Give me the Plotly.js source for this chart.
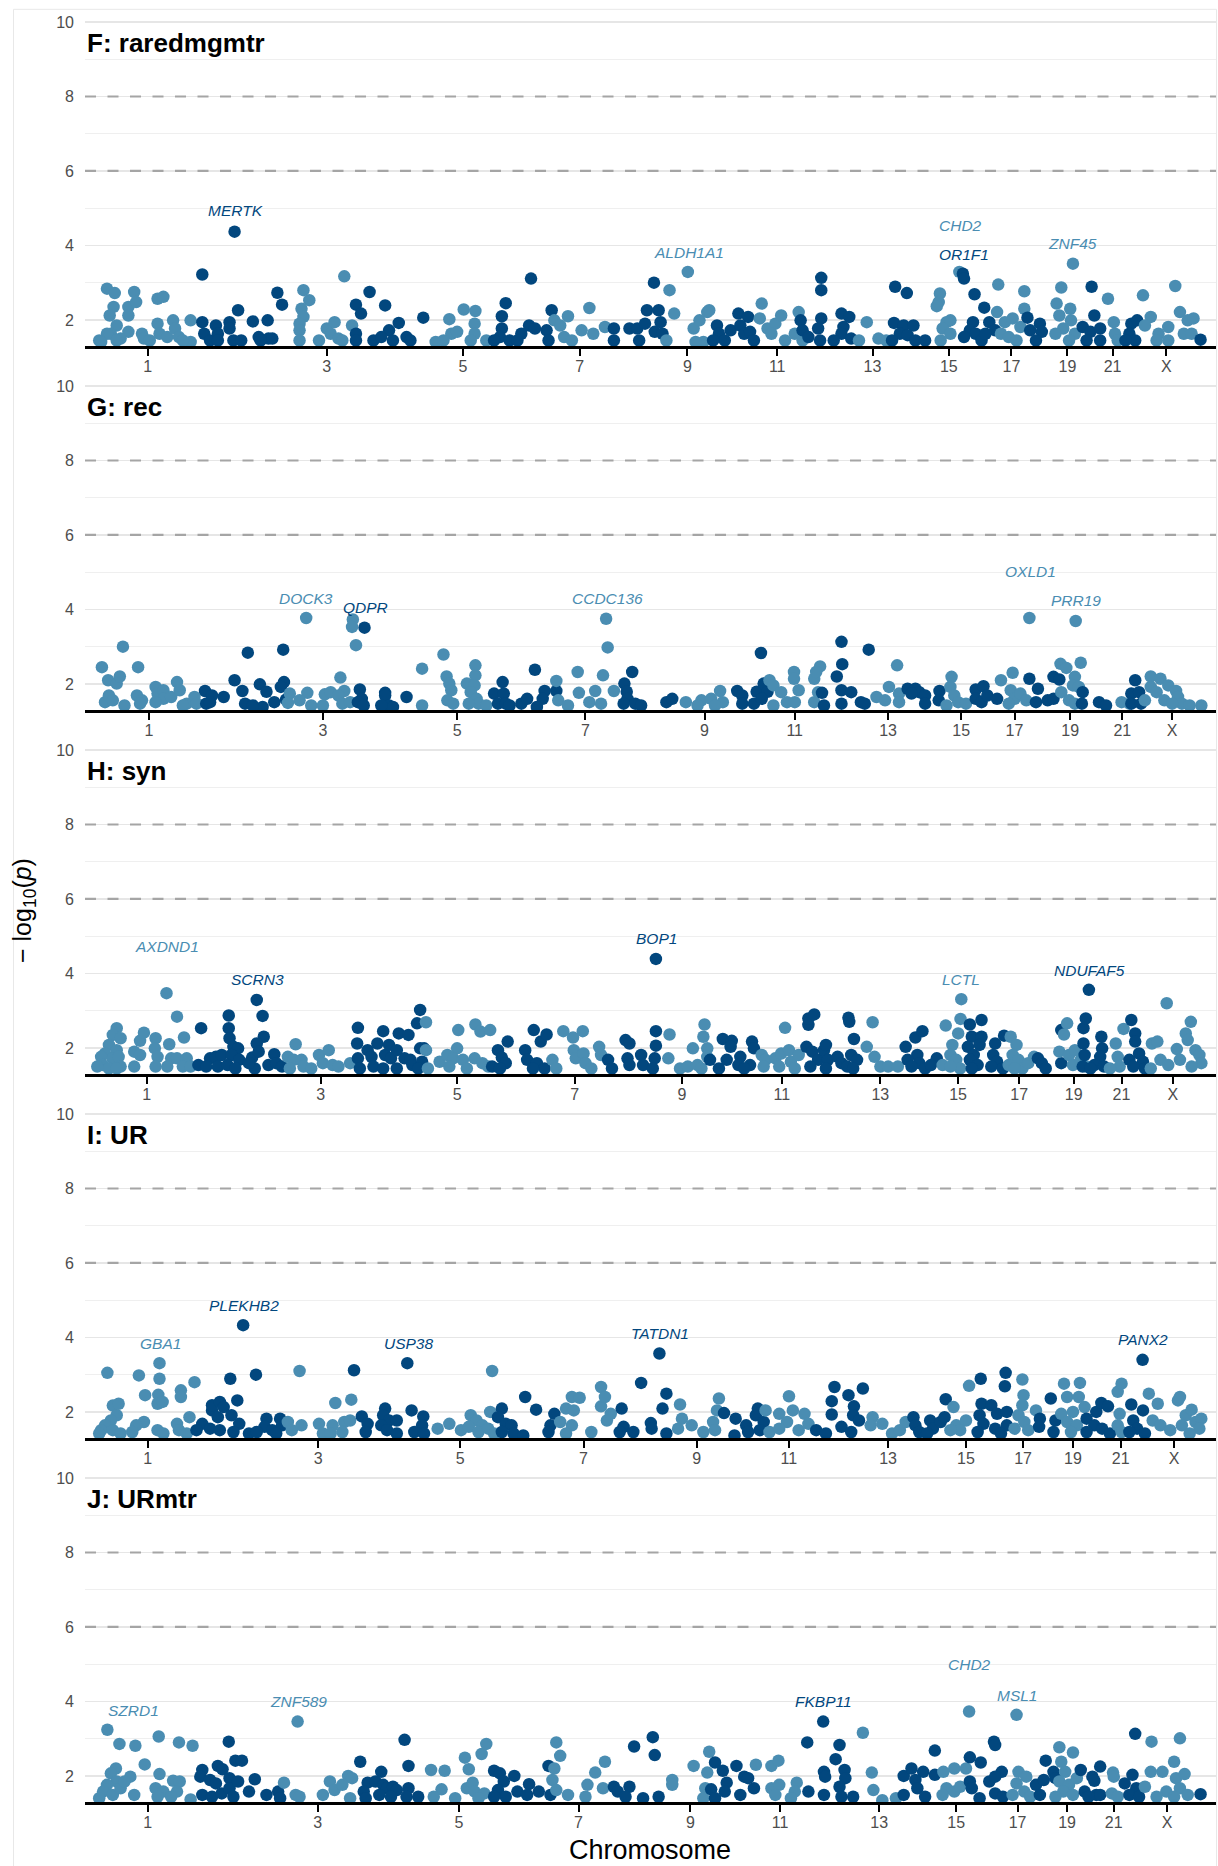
<!DOCTYPE html>
<html>
<head>
<meta charset="utf-8">
<script src="https://cdn.plot.ly/plotly-3.0.1.min.js"></script>
<style>html,body{margin:0;padding:0;background:#fff;}</style>
</head>
<body>
<div id="chart" style="width:1218px;height:1866px;"></div>
<script>
// ---------------- DATA ----------------
const chromNames = ['1','2','3','4','5','6','7','8','9','10','11','12','13','14','15','16','17','18','19','20','21','22','X','Y'];
const panelNames = ['F: raredmgmtr','G: rec','H: syn','I: UR','J: URmtr'];

// cumulative chromosome boundaries (genome axis units) for each panel
const edgesF = [244.2,515.6,745.4,934.6,1105.3,1274.5,1426.6,1553.6,1701.7,1832.2,1933.0,2062.6,2197.8,2287.7,2395.7,2482.1,2557.6,2641.9,2691.3,2796.2,2835.3,2884.6,2935.5,3060.4,3089.7];
const edgesG = [249.3,516.7,735.4,924.6,1090.1,1259.8,1441.5,1568.5,1745.6,1876.2,1978.0,2107.5,2237.9,2327.8,2427.6,2513.9,2565.6,2649.9,2698.5,2803.4,2860.2,2909.6,2950.4,3075.4,3088.2];
const edgesH = [244.2,510.0,729.5,918.7,1090.1,1259.8,1413.5,1540.5,1687.5,1818.1,1945.1,2074.6,2217.8,2307.8,2419.6,2506.0,2577.7,2662.0,2707.5,2812.4,2858.1,2907.5,2952.5,3077.4,3089.7];
const edgesI = [244.2,515.6,723.3,912.5,1098.1,1267.8,1436.4,1563.4,1725.6,1856.2,1963.1,2092.6,2237.9,2327.8,2439.7,2526.0,2587.7,2672.0,2705.5,2810.3,2856.1,2905.4,2955.3,3080.2,3092.3];
const edgesJ = [244.2,515.6,722.3,911.5,1095.0,1264.7,1423.6,1550.6,1709.6,1840.2,1940.2,2069.8,2215.0,2305.0,2414.7,2501.1,2573.6,2657.9,2690.3,2795.2,2838.1,2887.5,2937.3,3062.2,3092.3];

// rows: [chromosome index (1..24), cumulative position, -log10(p)]
const pointsF = [
[1,275,2.84],[1,295,2.72],[1,292,2.35],[1,282,2.12],[1,300,1.85],[1,285,1.63],[1,255,1.45],[1,275,1.63],[1,330,2.35],[1,345,2.75],[1,350,2.48],[1,330,2.12],[1,330,1.68],[1,310,1.50],[1,365,1.63],[1,370,1.50],[1,405,2.57],[1,420,2.62],[1,405,1.90],[1,410,1.63],[1,430,1.54],[1,445,1.99],[1,450,1.77],[1,460,1.54],[1,490,1.99],[1,490,1.41],[1,260,1.41],[1,300,1.45],[1,385,1.45],[1,470,1.45],
[2,520,3.22],[2,520,1.94],[2,525,1.63],[2,540,1.45],[2,555,1.85],[2,560,1.63],[2,590,1.94],[2,590,1.77],[2,603,4.37],[2,612,2.26],[2,600,1.45],[2,620,1.45],[2,650,1.96],[2,665,1.54],[2,688,1.99],[2,690,1.50],[2,700,1.50],[2,713,2.73],[2,725,2.41],[2,560,1.45],[2,670,1.45],
[3,780,2.80],[3,795,2.53],[3,775,2.30],[3,780,2.08],[3,770,1.90],[3,770,1.72],[3,770,1.45],[3,885,3.17],[3,840,1.77],[3,860,1.94],[3,850,1.63],[3,870,1.50],[3,905,1.85],[3,820,1.45],[3,880,1.45],
[4,915,2.41],[4,928,2.17],[4,950,2.75],[4,990,2.39],[4,1000,1.72],[4,1025,1.92],[4,915,1.63],[4,960,1.45],[4,980,1.54],[4,1010,1.45],[4,1045,1.54],[4,1055,1.45],[4,1088,2.06],[4,915,1.45],
[5,1120,1.41],[5,1155,2.02],[5,1160,1.63],[5,1175,1.68],[5,1192,2.28],[5,1222,2.24],[5,1220,1.90],[5,1220,1.63],[5,1210,1.45],[5,1250,1.45],[5,1140,1.45],
[6,1300,2.45],[6,1290,2.10],[6,1290,1.77],[6,1285,1.54],[6,1270,1.45],[6,1310,1.45],[6,1340,1.63],[6,1360,1.85],[6,1365,3.11],[6,1375,1.77],[6,1405,1.72],[6,1418,2.26],[6,1410,1.45],[6,1330,1.45],
[7,1425,1.99],[7,1440,1.85],[7,1460,2.10],[7,1450,1.54],[7,1470,1.45],[7,1495,1.72],[7,1515,2.32],[7,1525,1.63],[7,1555,1.81],
[8,1578,1.77],[8,1578,1.45],[8,1618,1.77],[8,1638,1.77],[8,1643,1.45],[8,1658,1.90],[8,1663,2.26],[8,1681,3.00],[8,1693,2.26],[8,1698,1.94],[8,1683,1.68],[8,1703,1.63],
[9,1721,2.80],[9,1733,2.17],[9,1713,1.45],[9,1768,3.29],[9,1783,1.77],[9,1798,1.99],[9,1818,2.21],[9,1823,2.26],[9,1808,1.41],[9,1788,1.41],
[10,1843,1.85],[10,1848,1.63],[10,1863,1.45],[10,1878,1.72],[10,1833,1.45],[10,1898,2.17],[10,1923,2.08],[10,1903,1.85],[10,1913,1.63],[10,1928,1.68],[10,1938,1.45],
[11,1958,2.44],[11,1953,2.04],[11,1973,1.77],[11,1993,1.90],[11,2008,2.12],[11,1983,1.63],[11,2018,1.45],[11,2053,2.21],[11,2043,1.63],[11,2063,1.45],
[12,2058,1.99],[12,2063,1.72],[12,2078,1.54],[12,2111,3.13],[12,2111,2.80],[12,2111,2.04],[12,2103,1.77],[12,2108,1.45],[12,2163,2.17],[12,2183,2.08],[12,2168,1.81],[12,2163,1.63],[12,2188,1.50],[12,2143,1.45],
[13,2208,1.45],[13,2228,1.94],[13,2258,1.50],[13,2278,1.45],
[14,2301,2.89],[14,2331,2.72],[14,2298,1.92],[14,2323,1.85],[14,2348,1.85],[14,2313,1.63],[14,2333,1.59],[14,2353,1.45],[14,2378,1.45],[14,2293,1.45],
[15,2416,2.71],[15,2413,2.48],[15,2408,2.37],[15,2433,1.94],[15,2443,1.99],[15,2423,1.77],[15,2443,1.63],[15,2466,3.29],[15,2418,1.45],
[16,2475,3.24],[16,2478,3.11],[16,2505,2.69],[16,2530,2.33],[16,2501,1.94],[16,2493,1.72],[16,2478,1.54],[16,2508,1.63],[16,2523,1.45],[16,2543,1.94],[16,2558,1.72],[16,2533,1.63],
[17,2566,2.95],[17,2563,2.21],[17,2583,1.94],[17,2603,2.04],[17,2573,1.63],[17,2593,1.54],[17,2613,1.45],[17,2633,2.77],[17,2633,2.30],[17,2623,1.81],
[18,2641,2.06],[18,2648,1.72],[18,2673,1.90],[18,2678,1.68],[18,2663,1.45],
[19,2728,2.87],[19,2716,2.44],[19,2723,2.12],[19,2751,2.30],[19,2758,3.51],[19,2753,1.99],[19,2733,1.77],[19,2763,1.63],[19,2748,1.45],[19,2713,1.63],
[20,2806,2.89],[20,2813,2.12],[20,2783,1.81],[20,2803,1.68],[20,2793,1.45],[20,2828,1.77],[20,2828,1.45],
[21,2848,2.57],[21,2863,1.94],[21,2866,1.63],[21,2873,1.45],
[22,2908,1.90],[22,2923,1.99],[22,2903,1.63],[22,2918,1.45],[22,2893,1.45],
[23,2938,2.66],[23,2958,2.08],[23,2943,1.85],[23,2978,1.63],[23,3003,1.81],[23,3021,2.91],[23,3033,2.21],[23,3053,1.99],[23,3068,2.04],[23,3043,1.63],[23,3063,1.63],[23,3003,1.45],[23,2973,1.45],
[24,3086,1.47]
];
const pointsG = [
[1,262,2.45],[1,278,2.10],[1,300,2.01],[1,308,2.20],[1,316,3.00],[1,270,1.51],[1,280,1.69],[1,290,1.56],[1,320,1.42],[1,355,2.45],[1,352,1.69],[1,365,1.56],[1,360,1.47],[1,400,1.92],[1,405,1.74],[1,420,1.83],[1,420,1.60],[1,440,1.65],[1,400,1.51],[1,455,2.05],[1,462,1.83],[1,480,1.47],[1,500,1.65],[1,505,1.47],[1,470,1.42],
[2,527,1.81],[2,545,1.69],[2,575,1.65],[2,530,1.47],[2,540,1.51],[2,603,2.10],[2,623,1.81],[2,637,2.84],[2,630,1.47],[2,668,1.99],[2,685,1.79],[2,705,1.51],[2,675,1.38],[2,728,2.92],[2,730,2.05],[2,722,1.92],[2,735,1.58],[2,650,1.42],
[3,745,1.74],[3,740,1.49],[3,787,3.77],[3,790,1.76],[3,770,1.56],[3,800,1.42],[3,835,1.72],[3,850,1.78],[3,875,2.17],[3,885,1.81],[3,870,1.69],[3,907,3.73],[3,905,3.53],[3,915,3.04],[3,880,1.47],[3,900,1.51],[3,830,1.42],
[4,937,3.51],[4,925,1.85],[4,930,1.60],[4,920,1.51],[4,935,1.42],[4,990,1.76],[4,990,1.69],[4,1000,1.42],[4,1010,1.38],[4,980,1.42],[4,1045,1.65],
[5,1085,2.41],[5,1085,1.42],[5,1140,2.79],[5,1148,2.20],[5,1155,2.01],[5,1160,1.83],[5,1150,1.56],[5,1165,1.47],[5,1200,2.01],[5,1222,2.50],[5,1222,2.23],[5,1220,1.96],[5,1210,1.78],[5,1225,1.60],[5,1230,1.47],[5,1205,1.47],[5,1250,1.42],
[6,1270,1.74],[6,1292,2.05],[6,1295,1.74],[6,1280,1.47],[6,1300,1.47],[6,1310,1.42],[6,1340,1.47],[6,1355,1.60],[6,1375,2.38],[6,1400,1.81],[6,1395,1.60],[6,1430,1.81],[6,1380,1.38],
[7,1430,2.08],[7,1435,1.56],[7,1460,1.42],[7,1485,2.32],[7,1488,1.76],[7,1515,1.51],[7,1530,1.81],[7,1550,2.23],[7,1558,3.75],[7,1562,2.98],[7,1545,1.47],[7,1578,1.81],
[8,1605,2.01],[8,1611,1.79],[8,1625,2.32],[8,1613,1.60],[8,1633,1.47],[8,1648,1.42],[8,1603,1.47],[8,1713,1.51],[8,1728,1.60],
[9,1763,1.51],[9,1803,1.56],[9,1828,1.60],[9,1851,1.81],[9,1858,1.51],[9,1793,1.42],[9,1838,1.42],
[10,1895,1.81],[10,1908,1.69],[10,1908,1.47],[10,1938,1.47],[10,1945,1.79],[10,1956,2.83],[10,1963,2.01],[10,1973,1.79],[10,1958,1.60],
[11,1978,2.10],[11,1988,1.96],[11,1988,1.42],[11,2008,1.78],[11,2023,1.51],[11,2041,2.32],[11,2041,2.14],[11,2053,1.83],[11,2043,1.51],[11,2093,2.14],[11,2108,2.47],[11,2098,2.32],[11,2103,1.78],[11,2093,1.51],
[12,2113,1.76],[12,2118,1.42],[12,2151,2.20],[12,2163,3.13],[12,2165,2.53],[12,2163,1.83],[12,2188,1.78],[12,2163,1.47],[12,2213,1.51],[12,2223,1.47],[12,2233,2.92],
[13,2253,1.65],[13,2275,1.56],[13,2285,1.92],[13,2306,2.50],[13,2311,1.74],[13,2311,1.51],
[14,2333,1.87],[14,2353,1.87],[14,2363,1.78],[14,2378,1.69],[14,2378,1.47],[14,2415,1.81],[14,2413,1.56],[14,2343,1.74],
[15,2446,2.19],[15,2443,1.92],[15,2453,1.69],[15,2463,1.51],[15,2483,1.47],[15,2433,1.42],
[16,2508,1.85],[16,2528,1.94],[16,2508,1.60],[16,2523,1.51],[16,2538,1.69],[16,2563,1.60],
[17,2573,2.10],[17,2603,2.30],[17,2598,1.83],[17,2608,1.60],[17,2623,1.74],[17,2638,1.56],[17,2646,3.77],[17,2593,1.47],
[18,2646,2.14],[18,2668,1.87],[18,2663,1.51],[18,2693,1.56],[18,2708,1.60],[18,2708,2.19],[18,2723,2.12],
[19,2726,2.54],[19,2741,2.43],[19,2763,2.19],[19,2765,3.69],[19,2778,2.57],[19,2758,1.96],[19,2773,1.92],[19,2728,1.78],[19,2748,1.56],[19,2763,1.47],
[20,2783,1.78],[20,2781,1.47],[20,2825,1.51],[20,2843,1.42],
[21,2883,1.51],[21,2903,1.47],
[22,2918,2.10],[22,2908,1.74],[22,2928,1.78],[22,2908,1.47],[22,2933,1.47],
[23,2958,2.20],[23,2983,2.14],[23,2958,1.92],[23,3003,1.96],[23,2973,1.78],[23,3023,1.81],[23,3028,1.65],[23,2993,1.56],[23,3038,1.47],[23,3058,1.42],[23,3088,1.42],[23,2943,1.56],[23,3013,1.47]
];
const pointsH = [
[1,300,2.53],[1,290,2.35],[1,310,2.26],[1,280,2.08],[1,300,1.94],[1,270,1.85],[1,260,1.76],[1,290,1.72],[1,305,1.76],[1,265,1.54],[1,280,1.45],[1,310,1.50],[1,250,1.50],[1,300,1.45],[1,345,1.90],[1,360,2.19],[1,370,2.41],[1,360,1.81],[1,345,1.50],[1,400,2.26],[1,398,1.99],[1,405,1.76],[1,400,1.50],[1,435,2.10],[1,428,3.47],[1,455,2.84],[1,473,2.28],[1,440,1.72],[1,455,1.72],[1,480,1.72],[1,470,1.50],[1,430,1.50],[1,490,1.50],
[2,517,2.53],[2,510,1.54],[2,540,1.72],[2,555,1.76],[2,570,1.81],[2,530,1.50],[2,560,1.50],[2,588,2.87],[2,588,2.53],[2,590,2.26],[2,600,2.03],[2,612,1.99],[2,595,1.81],[2,585,1.54],[2,615,1.68],[2,605,1.45],[2,648,1.74],[2,660,3.29],[2,675,2.86],[2,678,2.30],[2,660,2.12],[2,665,1.90],[2,655,1.45],[2,690,1.54],[2,705,1.83],[2,710,1.59],[2,725,1.50],[2,640,1.59],
[3,740,1.76],[3,760,2.10],[3,755,1.68],[3,775,1.68],[3,780,1.50],[3,745,1.45],[3,820,1.81],[3,845,1.94],[3,830,1.59],[3,855,1.54],[3,870,1.50],[3,800,1.45],[3,900,1.59],
[4,920,2.54],[4,918,2.12],[4,920,1.72],[4,925,1.45],[4,945,1.94],[4,955,1.76],[4,970,2.12],[4,985,2.45],[4,990,1.81],[4,1000,2.08],[4,1005,1.72],[4,1020,1.94],[4,1025,2.39],[4,1050,2.35],[4,1040,1.72],[4,960,1.50],[4,985,1.45],[4,1020,1.45],[4,1055,1.68],[4,1060,1.54],[4,1072,2.66],[4,1080,3.02],[4,1080,1.99],[4,1090,1.99],[4,1085,1.63],[4,1075,1.45],
[5,1095,2.69],[5,1095,1.94],[5,1100,1.45],[5,1130,1.63],[5,1150,1.81],[5,1178,2.48],[5,1175,1.99],[5,1165,1.72],[5,1190,1.68],[5,1155,1.50],[5,1222,2.63],[5,1235,2.44],[5,1260,2.48],[5,1220,1.72],[5,1240,1.59],[5,1200,1.45],[5,1255,1.50],
[6,1265,1.50],[6,1280,1.94],[6,1290,1.74],[6,1305,2.17],[6,1300,1.59],[6,1285,1.45],[6,1350,1.94],[6,1372,2.48],[6,1355,1.68],[6,1380,1.59],[6,1390,2.17],[6,1405,2.36],[6,1400,1.45],[6,1370,1.45],
[7,1420,1.68],[7,1430,1.45],[7,1448,2.45],[7,1473,2.28],[7,1498,2.45],[7,1475,1.94],[7,1480,1.72],[7,1500,1.85],[7,1505,1.59],[7,1520,1.45],[7,1540,2.03],[7,1545,1.81],
[8,1563,1.68],[8,1573,1.45],[8,1608,2.21],[8,1618,2.12],[8,1613,1.72],[8,1618,1.54],[8,1648,1.81],[8,1653,1.54],[8,1683,1.72],[8,1686,2.45],[8,1686,2.06],[8,1686,4.39],[8,1678,1.45],
[9,1718,1.72],[9,1721,2.36],[9,1748,1.45],[9,1768,1.50],[9,1781,1.99],[9,1793,1.54],[9,1811,2.63],[9,1808,2.30],[9,1818,1.99],[9,1818,1.76],[9,1803,1.45],
[10,1825,1.68],[10,1858,2.24],[10,1848,1.45],[10,1881,2.19],[10,1878,2.03],[10,1868,1.68],[10,1903,1.76],[10,1898,1.54],[10,1933,2.17],[10,1938,1.99],[10,1928,1.54],[10,1913,1.45],
[11,1958,1.81],[11,1968,1.68],[11,1963,1.50],[11,1993,1.72],[11,2008,1.85],[11,2018,2.54],[11,2028,1.94],[11,2003,1.50],[11,2033,1.63],[11,2053,1.81],[11,2043,1.45],
[12,2073,2.03],[12,2078,2.62],[12,2078,2.79],[12,2093,2.90],[12,2088,1.90],[12,2103,1.68],[12,2118,1.94],[12,2123,2.08],[12,2128,1.68],[12,2083,1.50],[12,2123,1.45],[12,2153,1.76],[12,2163,1.59],[12,2181,2.81],[12,2183,2.70],[12,2195,2.24],[12,2188,1.81],[12,2178,1.50],[12,2203,1.68],[12,2193,1.45],
[13,2228,2.03],[13,2243,2.69],[13,2248,1.76],[13,2263,1.50],[13,2283,1.50],[13,2308,1.50],
[14,2328,2.03],[14,2353,2.28],[14,2371,2.45],[14,2358,1.81],[14,2333,1.68],[14,2363,1.59],[14,2343,1.50],[14,2378,1.45],[14,2408,1.72],[14,2393,1.54],
[15,2431,2.60],[15,2448,2.08],[15,2463,2.39],[15,2469,2.78],[15,2471,3.31],[15,2443,1.81],[15,2423,1.54],[15,2458,1.68],[15,2468,1.45],[15,2443,1.50],
[16,2493,2.63],[16,2523,2.75],[16,2498,2.30],[16,2523,2.30],[16,2488,2.03],[16,2503,1.81],[16,2518,2.08],[16,2493,1.68],[16,2513,1.54],[16,2498,1.45],[16,2558,2.12],[16,2581,2.33],[16,2553,1.81],[16,2563,1.63],[16,2548,1.50],[16,2578,1.45],
[17,2598,2.30],[17,2613,2.08],[17,2603,1.81],[17,2618,1.68],[17,2593,1.54],[17,2628,1.45],[17,2643,1.59],[17,2658,1.76],[17,2608,1.45],
[18,2668,1.72],[18,2678,1.59],[18,2688,1.45],[18,2728,2.48],[18,2728,1.59],
[19,2723,1.90],[19,2743,2.66],[19,2735,2.36],[19,2748,1.81],[19,2763,1.94],[19,2758,1.54],[19,2778,1.68],[19,2793,1.50],
[20,2785,2.53],[20,2791,2.79],[20,2799,3.56],[20,2785,2.12],[20,2788,1.81],[20,2783,1.50],[20,2831,2.30],[20,2833,1.99],[20,2828,1.76],[20,2813,1.54],[20,2838,1.50],[20,2803,1.45],
[21,2868,2.12],[21,2873,1.76],[21,2888,2.51],[21,2878,1.50],[21,2853,1.45],
[22,2908,2.75],[22,2918,2.39],[22,2918,2.17],[22,2928,1.85],[22,2903,1.68],[22,2938,1.63],[22,2913,1.50],[22,2943,1.45],
[23,2961,2.12],[23,2975,2.17],[23,2999,3.20],[23,3025,1.97],[23,3048,2.39],[23,3053,2.21],[23,3061,2.70],[23,3073,1.94],[23,3083,1.81],[23,3088,1.59],[23,2983,1.68],[23,3003,1.54],[23,3033,1.68],[23,3063,1.50],[23,2958,1.45]
];
const pointsI = [
[1,276,3.05],[1,290,2.17],[1,305,2.22],[1,300,1.91],[1,285,1.77],[1,270,1.64],[1,260,1.51],[1,290,1.51],[1,310,1.42],[1,255,1.42],[1,357,2.98],[1,373,2.45],[1,370,1.73],[1,350,1.64],[1,340,1.46],[1,410,3.31],[1,410,2.89],[1,407,2.46],[1,405,2.22],[1,418,2.27],[1,405,1.51],[1,420,1.42],[1,465,2.58],[1,465,2.40],[1,455,1.68],[1,460,1.51],[1,487,1.86],[1,500,2.80],[1,480,1.42],
[2,520,1.68],[2,505,1.51],[2,545,2.04],[2,545,2.18],[2,565,2.27],[2,575,2.13],[2,560,1.86],[2,540,1.55],[2,565,1.51],[2,592,2.89],[2,610,2.31],[2,595,1.91],[2,615,1.68],[2,600,1.46],[2,625,4.33],[2,658,3.00],[2,640,1.42],[2,685,1.82],[2,680,1.60],[2,700,1.51],[2,720,1.82],[2,725,1.64],[2,710,1.42],[2,660,1.46],
[3,740,1.73],[3,750,1.51],[3,770,3.10],[3,775,1.64],[3,820,1.68],[3,830,1.42],[3,855,1.64],[3,862,2.24],[3,885,1.73],[3,903,2.33],[3,900,1.77],[3,880,1.46],[3,850,1.42],
[4,910,3.12],[4,930,1.88],[4,945,1.68],[4,940,1.46],[4,990,2.09],[4,985,1.91],[4,1000,1.77],[4,1020,1.77],[4,980,1.64],[4,995,1.51],[4,1020,1.42],[4,1047,3.31],[4,1058,2.04],[4,1088,1.88],[4,1085,1.64],[4,1065,1.46],[4,1090,1.42],
[5,1125,1.55],[5,1155,1.68],[5,1185,1.51],[5,1210,1.91],[5,1225,1.77],[5,1205,1.60],[5,1240,1.64],[5,1230,1.46],[5,1255,1.55],[5,1260,2.00],[5,1265,3.10],[5,1270,1.42],
[6,1290,2.09],[6,1280,1.86],[6,1300,1.68],[6,1315,1.64],[6,1290,1.46],[6,1320,1.42],[6,1350,2.40],[6,1378,2.06],[6,1345,1.37],[6,1415,1.64],[6,1410,1.46],[6,1425,1.95],
[7,1440,1.73],[7,1455,2.09],[7,1470,2.40],[7,1490,2.38],[7,1475,2.04],[7,1470,1.64],[7,1455,1.42],[7,1520,1.46],[7,1545,2.67],[7,1545,2.15],[7,1555,2.40],[7,1560,1.77],[7,1570,1.95],
[8,1598,2.09],[8,1603,1.60],[8,1593,1.46],[8,1628,1.46],[8,1648,2.78],[8,1673,1.70],[8,1675,1.55],[8,1695,3.57],[8,1713,2.49],[8,1703,2.09],[8,1713,1.42],
[9,1748,2.20],[9,1753,1.82],[9,1743,1.55],[9,1778,1.64],[9,1808,1.46],[9,1833,1.73],[9,1848,2.36],[9,1843,2.04],[9,1838,1.51],
[10,1861,1.97],[10,1891,1.82],[10,1888,1.37],[10,1918,1.64],[10,1948,2.09],[10,1943,1.91],[10,1963,1.73],[10,1953,1.51],[10,1923,1.46],
[11,1968,2.04],[11,1978,1.46],[11,2003,1.95],[11,2028,2.42],[11,2038,2.04],[11,2023,1.73],[11,2068,1.95],[11,2078,1.68],[11,2053,1.51],[11,2003,1.55],
[12,2098,1.51],[12,2138,1.93],[12,2138,2.29],[12,2145,2.67],[12,2181,2.45],[12,2195,2.15],[12,2193,1.91],[12,2218,2.63],[12,2208,1.77],[12,2163,1.60],[12,2188,1.46],[12,2123,1.42],
[13,2243,1.86],[13,2238,1.64],[13,2268,1.68],[13,2293,1.42],[13,2313,1.51],[13,2328,1.73],
[14,2348,1.86],[14,2353,1.64],[14,2363,1.46],[14,2391,1.77],[14,2398,1.55],[14,2418,1.73],[14,2428,1.86],[14,2431,2.34],[14,2383,1.42],
[15,2451,2.13],[15,2458,1.64],[15,2483,1.77],[15,2491,2.70],[15,2468,1.51],[15,2443,1.51],
[16,2521,2.89],[16,2523,2.22],[16,2548,2.18],[16,2518,1.91],[16,2528,1.68],[16,2513,1.46],[16,2563,1.95],[16,2585,3.05],[16,2583,2.69],[16,2588,2.00],[16,2558,1.55],[16,2588,1.64],[16,2573,1.42],
[17,2628,2.87],[17,2631,2.45],[17,2628,2.18],[17,2618,1.91],[17,2633,1.73],[17,2663,2.04],[17,2608,1.55],[17,2643,1.51],
[18,2673,1.82],[18,2671,1.60],[18,2701,2.36],[18,2713,1.77],[18,2708,1.46],
[19,2735,2.76],[19,2776,2.78],[19,2743,2.40],[19,2773,2.40],[19,2728,1.95],[19,2758,2.00],[19,2788,2.13],[19,2743,1.73],[19,2768,1.64],[19,2753,1.46],
[20,2793,1.82],[20,2818,2.00],[20,2831,2.24],[20,2848,2.15],[20,2813,1.64],[20,2833,1.55],[20,2793,1.46],[20,2853,1.42],
[21,2873,2.54],[21,2883,2.76],[21,2878,1.95],[21,2873,1.64],[21,2883,1.46],
[22,2908,2.20],[22,2938,2.04],[22,2937,3.40],[22,2913,1.77],[22,2923,1.55],[22,2903,1.46],[22,2943,1.42],
[23,2953,2.49],[23,2976,2.22],[23,2963,1.77],[23,2983,1.64],[23,3008,1.51],[23,3028,2.31],[23,3033,2.40],[23,3048,1.91],[23,3063,2.06],[23,3038,1.64],[23,3073,1.73],[23,3088,1.82],[23,3083,1.55],[23,3058,1.42]
];
const pointsJ = [
[1,276,3.24],[1,307,2.86],[1,348,2.81],[1,298,2.20],[1,285,2.07],[1,300,1.85],[1,275,1.76],[1,265,1.58],[1,290,1.49],[1,310,1.67],[1,335,1.98],[1,320,1.85],[1,345,1.49],[1,255,1.40],[1,372,2.31],[1,408,3.06],[1,410,2.05],[1,400,1.67],[1,420,1.58],[1,405,1.44],[1,460,2.90],[1,495,2.81],[1,445,1.87],[1,462,1.85],[1,455,1.58],[1,440,1.44],[1,490,1.37],
[2,520,2.16],[2,515,1.98],[2,540,1.89],[2,555,1.80],[2,560,2.27],[2,572,2.18],[2,520,1.49],[2,545,1.44],[2,570,1.53],[2,588,2.92],[2,590,1.94],[2,590,1.67],[2,605,2.41],[2,622,2.41],[2,612,1.85],[2,600,1.44],[2,640,1.58],[2,655,1.91],[2,685,1.49],[2,715,1.58],[2,720,1.40],
[3,730,1.82],[3,760,1.49],[3,765,3.46],[3,770,1.44],[3,830,1.49],[3,848,1.85],[3,860,1.62],[3,880,1.76],[3,895,2.00],[3,905,1.94],[3,900,1.40],
[4,926,2.38],[4,945,1.82],[4,935,1.58],[4,940,1.40],[4,980,2.11],[4,965,1.85],[4,985,1.76],[4,995,1.67],[4,975,1.49],[4,1010,1.71],[4,1020,1.62],[4,1005,1.44],[4,1040,2.97],[4,1050,2.27],[4,1050,1.67],[4,1045,1.44],[4,1075,1.44],
[5,1108,2.16],[5,1143,2.14],[5,1135,1.64],[5,1115,1.44],[5,1170,1.40],[5,1195,2.49],[5,1205,2.18],[5,1200,1.67],[5,1215,1.82],[5,1220,1.58],[5,1238,2.59],[5,1250,2.86],[5,1245,1.53],[5,1230,1.40],
[6,1270,2.14],[6,1285,2.07],[6,1295,1.85],[6,1280,1.62],[6,1300,1.44],[6,1270,1.44],[6,1322,2.00],[6,1330,1.58],[6,1360,1.78],[6,1355,1.49],[6,1385,1.58],[6,1410,2.27],[6,1415,1.49],
[7,1430,2.90],[7,1440,2.54],[7,1425,2.20],[7,1420,1.89],[7,1430,1.62],[7,1460,1.49],[7,1510,1.76],[7,1530,2.09],[7,1555,2.38],[7,1550,1.67],[7,1505,1.44],
[8,1578,1.71],[8,1588,1.58],[8,1618,1.71],[8,1608,1.44],[8,1630,2.79],[8,1653,1.40],[8,1678,3.04],[8,1683,2.56],[8,1693,1.44],
[9,1728,1.89],[9,1728,1.76],[9,1783,2.27],[9,1823,2.65],[9,1818,2.09],[9,1813,1.67],[9,1808,1.40],
[10,1838,2.36],[10,1858,2.14],[10,1868,1.82],[10,1893,2.27],[10,1828,1.64],[10,1863,1.58],[10,1913,1.98],[10,1923,1.94],[10,1938,1.67],[10,1903,1.49],[10,1838,1.40],
[11,1943,2.30],[11,1983,2.27],[11,2001,2.41],[11,1983,1.67],[11,2003,1.76],[11,1993,1.49],[11,2048,1.82],[11,2043,1.58],[11,2033,1.40],
[12,2075,2.90],[12,2078,1.58],[12,2116,3.46],[12,2118,2.11],[12,2121,1.98],[12,2148,2.45],[12,2158,2.83],[12,2171,2.16],[12,2173,1.94],[12,2158,1.71],[12,2118,1.49],[12,2163,1.44],[12,2193,1.44],
[13,2218,3.16],[13,2241,2.09],[13,2245,1.62],[13,2268,1.35],[13,2303,1.40],
[14,2323,2.00],[14,2343,2.20],[14,2373,2.11],[14,2353,1.89],[14,2358,1.67],[14,2323,1.49],[14,2378,1.44],[14,2403,2.68],[14,2403,2.03],
[15,2425,2.11],[15,2453,2.20],[15,2483,2.20],[15,2491,3.73],[15,2433,1.67],[15,2453,1.58],[15,2423,1.49],[15,2468,1.71],
[16,2493,2.50],[16,2521,2.36],[16,2493,1.85],[16,2498,1.67],[16,2518,1.40],[16,2555,2.92],[16,2558,2.83],[16,2543,1.85],[16,2575,2.11],[16,2558,1.98],[16,2558,1.53],[16,2578,1.44],
[17,2613,3.64],[17,2618,2.11],[17,2638,1.98],[17,2613,1.80],[17,2633,1.58],[17,2648,1.44],[17,2603,1.49],
[18,2663,1.76],[18,2688,2.41],[18,2683,1.89],[18,2673,1.49],[18,2708,2.11],[18,2713,1.94],
[19,2723,2.77],[19,2728,2.38],[19,2758,2.63],[19,2738,2.11],[19,2723,1.85],[19,2748,1.76],[19,2733,1.58],[19,2758,1.49],[19,2713,1.44],[19,2768,1.94],
[20,2778,2.16],[20,2808,1.98],[20,2813,1.87],[20,2828,2.25],[20,2788,1.58],[20,2818,1.49],[20,2828,1.49],[20,2798,1.44],
[21,2861,2.09],[21,2863,1.98],[21,2858,1.53],[21,2873,1.44],
[22,2891,1.80],[22,2911,2.03],[22,2918,3.13],[22,2921,1.67],[22,2903,1.49],[22,2928,1.44],
[23,2943,1.71],[23,2958,2.11],[23,2960,2.92],[23,2988,2.11],[23,3018,2.38],[23,3033,3.01],[23,3023,1.94],[23,3045,2.05],[23,2998,1.58],[23,3033,1.67],[23,3053,1.49],[23,2973,1.44],[23,3018,1.44],
[24,3086,1.51]
];

// labelled genes: name, chromosome, label position (genome units, -log10 p)
const genesF = ['MERTK','ALDH1A1','CHD2','OR1F1','ZNF45'];
const geneChrF = [2,9,15,16,19];
const geneXF = [605,1771,2468,2478,2758];
const geneYF = [4.93,3.81,4.53,3.76,4.05];
const genesG = ['DOCK3','QDPR','CCDC136','OXLD1','PRR19'];
const geneChrG = [3,4,7,17,19];
const geneXG = [787,940,1561,2648,2766];
const geneYG = [4.29,4.05,4.29,5.03,4.23];
const genesH = ['AXDND1','SCRN3','BOP1','LCTL','NDUFAF5'];
const geneChrH = [1,2,8,15,20];
const geneXH = [428,662,1688,2471,2800];
const geneYH = [4.72,3.83,4.93,3.83,4.08];
const genesI = ['GBA1','PLEKHB2','USP38','TATDN1','PANX2'];
const geneChrI = [1,2,4,8,22];
const geneXI = [412,627,1050,1696,2938];
const geneYI = [3.85,4.87,3.85,4.10,3.95];
const genesJ = ['SZRD1','ZNF589','FKBP11','CHD2','MSL1'];
const geneChrJ = [1,3,12,15,17];
const geneXJ = [343,768,2116,2493,2615];
const geneYJ = [3.77,4.00,4.00,4.98,4.16];

// ---------------- BUILD ----------------
const W = 1218, H = 1866;
const LIGHT = '#4a8db2', DARK = '#02477e';
const colorOf = c => (c % 2 === 1 ? LIGHT : DARK);
const FONT = 'Liberation Sans, Arial, Helvetica, sans-serif';

const panels = [
  {edges: edgesF, pts: pointsF, g: genesF, gc: geneChrF, gx: geneXF, gy: geneYF},
  {edges: edgesG, pts: pointsG, g: genesG, gc: geneChrG, gx: geneXG, gy: geneYG},
  {edges: edgesH, pts: pointsH, g: genesH, gc: geneChrH, gx: geneXH, gy: geneYH},
  {edges: edgesI, pts: pointsI, g: genesI, gc: geneChrI, gx: geneXI, gy: geneYI},
  {edges: edgesJ, pts: pointsJ, g: genesJ, gc: geneChrJ, gx: geneXJ, gy: geneYJ}
];

// layout geometry (pixels)
const plotLeft = 85, plotRight = 1216;
const top10 = [22, 386, 750, 1114, 1478];   // pixel row of y = 10 in each panel
const pxPerUnit = 324 / 8.7;
const yMin = 1.3, yMax = 10.3;
const xRange = [218.5, 3125.7];

const traces = [], shapes = [], annotations = [];
const layout = {
  width: W, height: H,
  margin: {l: 0, r: 0, t: 0, b: 0},
  paper_bgcolor: '#ffffff', plot_bgcolor: '#ffffff',
  showlegend: false,
  font: {family: FONT}
};

panels.forEach((p, i) => {
  const n = i + 1;
  const xa = n === 1 ? 'x' : 'x' + n;
  const ya = n === 1 ? 'y' : 'y' + n;
  const yTopPx = top10[i] - (yMax - 10) * pxPerUnit;
  const yBotPx = top10[i] + (10 - yMin) * pxPerUnit;

  traces.push({
    type: 'scatter', mode: 'markers',
    x: p.pts.map(r => r[1]), y: p.pts.map(r => r[2]),
    xaxis: xa, yaxis: ya,
    marker: {size: 12.5, color: p.pts.map(r => colorOf(r[0])), line: {width: 0}},
    cliponaxis: true, hoverinfo: 'skip'
  });

  const tickvals = [], ticktext = [];
  for (let k = 0; k < 23; k += 2) {
    tickvals.push((p.edges[k] + p.edges[k + 1]) / 2);
    ticktext.push(chromNames[k]);
  }

  layout['xaxis' + (n === 1 ? '' : n)] = {
    domain: [plotLeft / W, plotRight / W], anchor: ya, range: xRange,
    tickmode: 'array', tickvals: tickvals, ticktext: ticktext,
    ticks: 'outside', ticklen: 7, tickwidth: 2, tickcolor: '#000',
    showline: true, linecolor: '#000', linewidth: 2.5,
    showgrid: false, zeroline: false, fixedrange: true,
    tickfont: {family: FONT, size: 16, color: '#4d4d4d'},
    ticklabelstandoff: -3
  };
  layout['yaxis' + (n === 1 ? '' : n)] = {
    domain: [1 - yBotPx / H, 1 - yTopPx / H], anchor: xa, range: [yMin, yMax],
    tickmode: 'linear', tick0: 0, dtick: 2,
    showgrid: true, gridcolor: '#e6e6e6', gridwidth: 1.6,
    minor: {tickmode: 'array', tickvals: [3, 5, 7, 9], showgrid: true, gridcolor: '#efefef', gridwidth: 1.1, ticks: ''},
    zeroline: false, showline: false, ticks: '', fixedrange: true,
    tickfont: {family: FONT, size: 16, color: '#4d4d4d'},
    ticklabelstandoff: 10
  };

  [6, 8].forEach(v => shapes.push({
    type: 'line', xref: xa + ' domain', x0: 0, x1: 1, yref: ya, y0: v, y1: v,
    line: {color: '#a5a5a5', width: 2.2, dash: '11px,11.5px'}
  }));

  annotations.push({
    xref: xa + ' domain', x: 0, xanchor: 'left', yref: ya, y: 9.43, yanchor: 'middle',
    text: '<b>' + panelNames[i] + '</b>', showarrow: false,
    font: {family: FONT, size: 26, color: '#000'}
  });

  p.g.forEach((name, j) => annotations.push({
    xref: xa, yref: ya, x: p.gx[j], y: p.gy[j], xanchor: 'center', yanchor: 'middle',
    text: name, showarrow: false,
    font: {family: FONT, size: 15.5, color: colorOf(p.gc[j]), style: 'italic'}
  }));
});

// outer frame
shapes.push({
  type: 'rect', xref: 'paper', yref: 'paper',
  x0: 13.5 / W, x1: 1216.5 / W, y0: -0.01, y1: 1 - 9.3 / H,
  line: {color: '#e8e8e8', width: 1}, fillcolor: 'rgba(0,0,0,0)', layer: 'below'
});

// axis titles
annotations.push({
  xref: 'paper', yref: 'paper', x: 24 / W, y: 1 - 911 / H, xanchor: 'center', yanchor: 'middle',
  textangle: -90, showarrow: false,
  text: '\u2212 log<sub>10</sub>(<i>p</i>)',
  font: {family: FONT, size: 25, color: '#000'}
});
annotations.push({
  xref: 'paper', yref: 'paper', x: 650 / W, y: 1 - 1850 / H, xanchor: 'center', yanchor: 'middle',
  showarrow: false, text: 'Chromosome',
  font: {family: FONT, size: 27, color: '#000'}
});

layout.shapes = shapes;
layout.annotations = annotations;

Plotly.newPlot('chart', traces, layout, {displayModeBar: false, staticPlot: true});
</script>
</body>
</html>
